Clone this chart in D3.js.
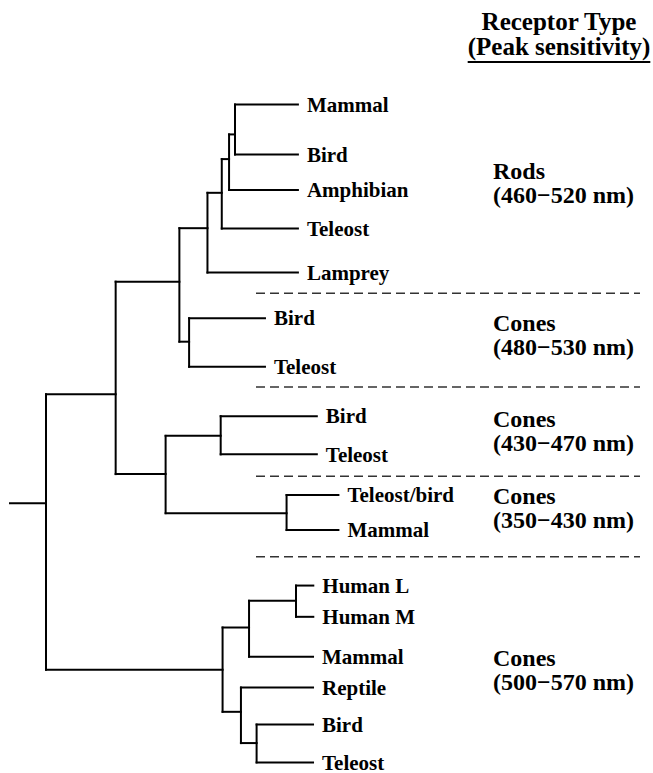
<!DOCTYPE html>
<html><head><meta charset="utf-8">
<script src="https://cdn.jsdelivr.net/npm/d3@7"></script>
<style>body{margin:0;background:#fff}svg{display:block}</style>
</head><body><svg id="c" width="653" height="773"></svg>
<script>
// Tree: id, parent, branch length, row (vertical position), label
const ids     = ["root","A","RR","Rods","n3","n2","n1","rM","rB","rAm","rT","rL","RH2","gB","gT","SWS","SWS2","bB","bT","SWS1","uTB","uM","LWS","L1","L2","lHL","lHM","lM","L3","lR","L4","lB","lT"];
const parents = ["","root","A","RR","Rods","n3","n2","n1","n1","n2","n3","Rods","RR","RH2","RH2","A","SWS","SWS2","SWS2","SWS","SWS1","SWS1","root","LWS","L1","L2","L2","L1","LWS","L3","L3","L4","L4"];
const lengths = [0,25.8,23.6,10.4,5.3,2.7,2.2,23.3,23.3,25.5,28.2,33.5,3.6,28.1,28.1,18.5,20.4,35.6,35.6,44.8,19.2,19.2,65.4,9.8,17.4,6.4,6.4,23.7,6.8,26.7,5.8,20.9,20.9];
const rows    = [9.70,7.05,4.31,3.01,2.15,1.33,0.73,0,1.22,2.08,3.02,4.09,5.77,5.20,6.38,8.99,8.06,7.58,8.51,9.94,9.50,10.35,13.75,12.72,12.07,11.70,12.46,13.43,14.77,14.18,15.53,15.08,16.0];
const labels  = ["","","","","","","","Mammal","Bird","Amphibian","Teleost","Lamprey","","Bird","Teleost","","","Bird","Teleost","","Teleost/bird","Mammal","","","","Human L","Human M","Mammal","","Reptile","","Bird","Teleost"];
const rootStem = 13.7;

const groupLine1 = ["Rods","Cones","Cones","Cones","Cones"];
const groupLine2 = ["(460\u2212520 nm)","(480\u2212530 nm)","(430\u2212470 nm)","(350\u2212430 nm)","(500\u2212570 nm)"];
const groupRows  = [1.92,5.60,7.95,9.81,13.75];
const separatorRows = [4.59,6.87,9.04,11.0];
const headerLines = ["Receptor Type","(Peak sensitivity)"];

const svg = d3.select("#c");
const x = d3.scaleLinear().domain([0,100]).range([46,316]);
const y = d3.scaleLinear().domain([0,16]).range([104.4,762.4]);

const table = ids.map((id,i)=>({id, parent: parents[i]||null, len: lengths[i], row: rows[i], label: labels[i]}));
const root = d3.stratify().id(d=>d.id).parentId(d=>d.parent)(table);
root.eachBefore(n=>{ n.dist = n.parent ? n.parent.dist + n.data.len : 0; });

const g = svg.append("g").attr("fill","none").attr("stroke","#000").attr("stroke-width",2).attr("stroke-linecap","square");
g.append("line").attr("x1",x(-rootStem)).attr("x2",x(0)).attr("y1",y(root.data.row)).attr("y2",y(root.data.row)).attr("stroke-linecap","butt");
root.descendants().forEach(n=>{
  if(n.parent){
    g.append("line").attr("x1",x(n.parent.dist)).attr("x2",x(n.dist))
      .attr("y1",y(n.data.row)).attr("y2",y(n.data.row));
  }
  if(n.children){
    const rs = n.children.map(c=>c.data.row);
    g.append("line").attr("x1",x(n.dist)).attr("x2",x(n.dist))
      .attr("y1",y(d3.min(rs))).attr("y2",y(d3.max(rs)));
  }
});

const font = "'Liberation Serif','Times New Roman',serif";
svg.append("g").selectAll("text").data(root.leaves()).join("text")
  .attr("x",d=>x(d.dist)+9).attr("y",d=>y(d.data.row)).attr("dy","0.34em")
  .attr("font-family",font).attr("font-weight","bold").attr("font-size",21)
  .text(d=>d.data.label);

svg.append("g").selectAll("line").data(separatorRows).join("line")
  .attr("x1",256).attr("x2",640).attr("y1",d=>y(d)).attr("y2",d=>y(d))
  .attr("stroke","#333").attr("stroke-width",1.5).attr("stroke-dasharray","9,5");

const gl = svg.append("g").attr("font-family",font).attr("font-weight","bold").attr("font-size",24);
groupLine1.forEach((t,i)=>{
  const cy = y(groupRows[i]);
  gl.append("text").attr("x",493).attr("y",cy-4).text(t);
  gl.append("text").attr("x",493).attr("y",cy+20).text(groupLine2[i]);
});

const hd = svg.append("g").attr("font-family",font).attr("font-weight","bold").attr("font-size",25).attr("text-anchor","middle");
hd.append("text").attr("x",559).attr("y",30).text(headerLines[0]);
const h2 = hd.append("text").attr("x",559).attr("y",55).text(headerLines[1]);
const w = h2.node().getComputedTextLength();
svg.append("line").attr("x1",559-w/2).attr("x2",559+w/2).attr("y1",62).attr("y2",62).attr("stroke","#000").attr("stroke-width",1.8);
</script></body></html>
